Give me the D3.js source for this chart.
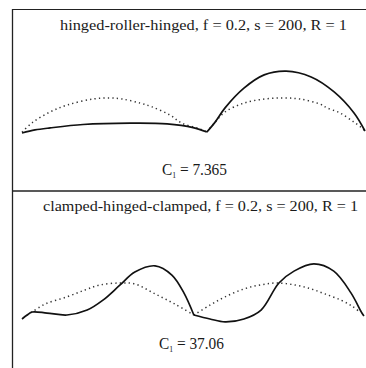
<!DOCTYPE html>
<html lang="en">
<head>
<meta charset="UTF-8">
<title>Buckling mode shapes</title>
<script src="https://d3js.org/d3.v7.min.js"></script>
<style>
  html, body { margin: 0; padding: 0; background: #fff; }
  svg { display: block; }
  text { font-family: "Liberation Serif", "DejaVu Serif", serif; fill: #1a1a1a; }
</style>
</head>
<body>
<svg id="chart" width="366" height="368"></svg>
<script>
// x: position along the beam, percent of total length; y: deflection (arch rise = 1)
// top panel: hinged-roller-hinged
const topArchL = { x: [0, 3.2, 8.2, 13.1, 20.7, 25.7, 29.2, 34.4, 37.9, 43.1, 46.6, 51.9, 53.9],
                   y: [0, 0.29, 0.59, 0.79, 0.97, 1.0, 0.97, 0.85, 0.74, 0.5, 0.26, 0.09, 0] };
const topArchR = { x: [53.9, 56.3, 59.2, 64.7, 70.8, 76.1, 81, 86.9, 88.9, 92.7, 96.8, 99.1, 100],
                   y: [0, 0.29, 0.59, 0.85, 0.97, 1.0, 0.97, 0.82, 0.71, 0.56, 0.29, 0.12, 0.03] };
const topModeL = { x: [0, 3.8, 8.2, 17.8, 31.5, 42.3, 49.9, 53.9],
                   y: [-0.03, 0.06, 0.12, 0.22, 0.26, 0.24, 0.13, 0] };
const topModeR = { x: [53.9, 56.3, 59.2, 64.7, 70.6, 77, 84.3, 91, 96.8, 100],
                   y: [0, 0.29, 0.71, 1.29, 1.68, 1.79, 1.62, 1.18, 0.56, 0.03] };

// bottom panel: clamped-hinged-clamped
const botArchL = { x: [1.5, 2.9, 6.7, 13.1, 18.4, 22.7, 28.6, 32.9, 38.8, 44.6, 50.1],
                   y: [0.03, 0.12, 0.36, 0.58, 0.79, 0.94, 1.0, 0.97, 0.67, 0.36, 0.03] };
const botArchR = { x: [50.1, 54.8, 59.2, 64.7, 69.4, 74.3, 79.6, 84.3, 88.3, 93, 96.2, 98.5],
                   y: [0.03, 0.33, 0.58, 0.82, 0.94, 1.0, 0.94, 0.82, 0.67, 0.48, 0.30, 0.12] };
const botModeL = { x: [0, 1.5, 2.9, 7.3, 13.1, 19, 23.6, 28.6, 32.9, 38.8, 43.7, 47.2, 50.1],
                   y: [-0.09, 0.03, 0.12, 0.09, 0.03, 0.18, 0.48, 0.94, 1.33, 1.52, 1.24, 0.70, 0.03] };
const botModeR = { x: [50.1, 54.8, 59.2, 64.7, 69.7, 74.9, 79.3, 85.1, 90.9, 95.9, 99.1, 99.7],
                   y: [0.03, -0.09, -0.18, -0.09, 0.18, 1.0, 1.36, 1.58, 1.36, 0.70, 0.09, 0] };

const panels = [
  { title: "hinged-roller-hinged, f = 0.2, s = 200, R = 1", c1: " = 7.365",
    arch: [topArchL, topArchR], mode: [topModeL, topModeR],
    base: 132, unit: 34, titleY: 30, titleX: [60, 347], c1Y: 175, c1X: [162, 227] },
  { title: "clamped-hinged-clamped, f = 0.2, s = 200, R = 1", c1: " = 37.06",
    arch: [botArchL, botArchR], mode: [botModeL, botModeR],
    base: 316, unit: 33, titleY: 211, titleX: [43, 358], c1Y: 349, c1X: [159, 224] }
];

const svg = d3.select("#chart");
const x = d3.scaleLinear().domain([0, 100]).range([22, 365]);

// frame
const frame = svg.append("g").attr("stroke", "#222").attr("fill", "none");
frame.append("line").attr("x1", 12.5).attr("x2", 12.5).attr("y1", 9).attr("y2", 368).attr("stroke-width", 1.3);
frame.append("line").attr("x1", 12).attr("x2", 366).attr("y1", 9.5).attr("y2", 9.5).attr("stroke-width", 1.2);
frame.append("line").attr("x1", 12).attr("x2", 366).attr("y1", 191).attr("y2", 191).attr("stroke-width", 1.4);

function fitText(t, x0, x1) {
  t.attr("textLength", x1 - x0).attr("lengthAdjust", "spacingAndGlyphs");
}

panels.forEach(p => {
  const y = d3.scaleLinear().domain([0, 1]).range([p.base, p.base - p.unit]);
  const line = d3.line().x(d => x(d[0])).y(d => y(d[1])).curve(d3.curveCatmullRom.alpha(0.5));
  const g = svg.append("g");

  p.arch.forEach(s => {
    g.append("path").datum(d3.zip(s.x, s.y)).attr("d", line)
      .attr("fill", "none").attr("stroke", "#333").attr("stroke-width", 1.5)
      .attr("stroke-dasharray", "1.3,3.2").attr("stroke-linecap", "butt");
  });
  p.mode.forEach(s => {
    g.append("path").datum(d3.zip(s.x, s.y)).attr("d", line)
      .attr("fill", "none").attr("stroke", "#111").attr("stroke-width", 1.7);
  });

  const t = g.append("text").attr("x", p.titleX[0]).attr("y", p.titleY)
    .attr("font-size", 15).text(p.title);
  fitText(t, p.titleX[0], p.titleX[1]);

  const c = g.append("text").attr("x", p.c1X[0]).attr("y", p.c1Y).attr("font-size", 16);
  c.append("tspan").text("C");
  c.append("tspan").attr("font-size", 8).attr("dy", 3).text("1");
  c.append("tspan").attr("dy", -3).text(p.c1);
  fitText(c, p.c1X[0], p.c1X[1]);
});
</script>
</body>
</html>
